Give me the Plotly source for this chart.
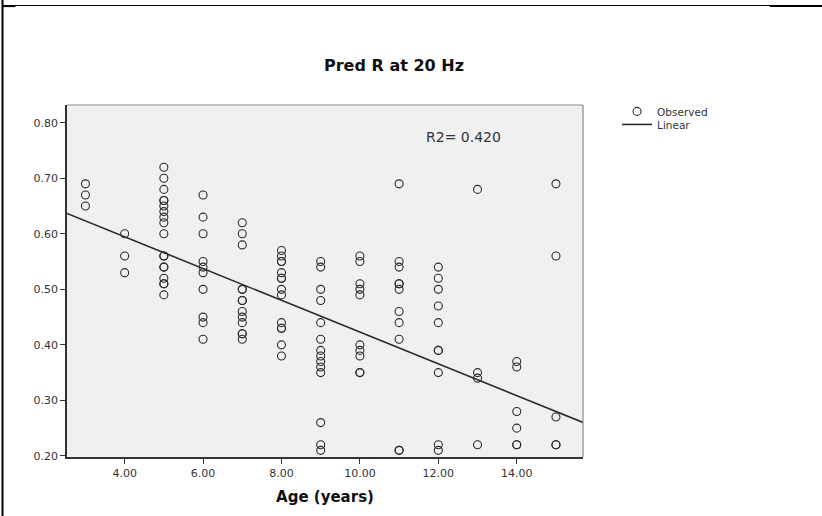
import numpy as np
import plotly.graph_objects as go

# Observed values per age group (years)
age_3 = [0.69, 0.67, 0.65]
age_4 = [0.60, 0.56, 0.53]
age_5 = [0.72, 0.70, 0.68, 0.66, 0.66, 0.65, 0.64, 0.63, 0.62, 0.60,
         0.56, 0.56, 0.54, 0.54, 0.52, 0.51, 0.51, 0.49]
age_6 = [0.67, 0.63, 0.60, 0.55, 0.54, 0.53, 0.50, 0.45, 0.44, 0.41]
age_7 = [0.62, 0.60, 0.58, 0.50, 0.50, 0.48, 0.48, 0.46, 0.45, 0.44,
         0.42, 0.42, 0.41]
age_8 = [0.57, 0.56, 0.55, 0.55, 0.53, 0.52, 0.52, 0.50, 0.49, 0.44,
         0.43, 0.43, 0.40, 0.38]
age_9 = [0.55, 0.54, 0.50, 0.48, 0.44, 0.41, 0.39, 0.38, 0.37, 0.36,
         0.35, 0.26, 0.22, 0.21]
age_10 = [0.56, 0.55, 0.51, 0.50, 0.49, 0.40, 0.39, 0.38, 0.35, 0.35]
age_11 = [0.69, 0.55, 0.54, 0.51, 0.51, 0.50, 0.46, 0.44, 0.41, 0.21, 0.21]
age_12 = [0.54, 0.52, 0.50, 0.47, 0.44, 0.39, 0.39, 0.35, 0.22, 0.21]
age_13 = [0.68, 0.35, 0.34, 0.22]
age_14 = [0.37, 0.36, 0.28, 0.25, 0.22, 0.22]
age_15 = [0.69, 0.56, 0.27, 0.22, 0.22]

groups = {3: age_3, 4: age_4, 5: age_5, 6: age_6, 7: age_7, 8: age_8,
          9: age_9, 10: age_10, 11: age_11, 12: age_12, 13: age_13,
          14: age_14, 15: age_15}

# Reported linear fit (Pred R = intercept + slope * age)
fit_intercept = 0.709
fit_slope = -0.0286
r2_label = "R2= 0.420"

x_ticks = [4, 6, 8, 10, 12, 14]
y_ticks = [0.20, 0.30, 0.40, 0.50, 0.60, 0.70, 0.80]
x_range = [2.53, 15.69]
y_range = [0.198, 0.832]

ages = np.concatenate([[a] * len(v) for a, v in groups.items()]).astype(float)
vals = np.concatenate([v for v in groups.values()])

fit_x = np.array(x_range)
fit_y = fit_intercept + fit_slope * fit_x

ink = "#2b2b2b"
font_family = "DejaVu Sans, Verdana, sans-serif"

fig = go.Figure()
fig.add_trace(go.Scatter(
    x=ages, y=vals, mode="markers", name="Observed", legend="legend",
    marker=dict(symbol="circle-open", size=8, color=ink,
                line=dict(width=1.1, color=ink)),
    cliponaxis=False,
))
fig.add_trace(go.Scatter(
    x=fit_x, y=fit_y, mode="lines", name="Linear", legend="legend2",
    line=dict(color=ink, width=1.6),
))

legend_style = dict(
    xanchor="left", yanchor="top", bgcolor="rgba(0,0,0,0)",
    font=dict(size=10.5, color="#333333"), itemwidth=30,
)

fig.update_layout(
    width=822, height=516,
    margin=dict(l=67, r=239, t=105, b=59),
    paper_bgcolor="white",
    plot_bgcolor="#f0f0f0",
    font=dict(family=font_family, size=11, color="#333333"),
    showlegend=True,
    legend=dict(x=1.066, y=1.023, **legend_style),
    legend2=dict(x=1.066, y=0.986, **legend_style),
    xaxis=dict(
        range=x_range, tickvals=x_ticks, tickformat=".2f",
        showgrid=False, zeroline=False,
        showline=True, linecolor="#333333", linewidth=1.5, mirror=False,
        ticks="outside", ticklen=5, tickcolor="#333333",
        tickfont=dict(size=11, color="#333333"),
        title=dict(text="<b>Age (years)</b>",
                   font=dict(size=15, color="#111111"), standoff=13),
    ),
    yaxis=dict(
        range=y_range, tickvals=y_ticks, tickformat=".2f",
        showgrid=False, zeroline=False,
        showline=True, linecolor="#333333", linewidth=1.5,
        ticks="outside", ticklen=5, tickcolor="#333333",
        tickfont=dict(size=11, color="#333333"),
    ),
    annotations=[
        dict(text="<b>Pred R at 20 Hz</b>", xref="paper", yref="paper",
             x=0.634, y=1.112, xanchor="center", yanchor="middle",
             showarrow=False, font=dict(size=16, color="#111111")),
        dict(text=r2_label, xref="paper", yref="paper",
             x=0.692, y=0.909, xanchor="left", yanchor="middle",
             showarrow=False, font=dict(size=14, color="#333333")),
        dict(text="(c)", xref="paper", yref="paper",
             x=0.646, y=1.2926, xanchor="center", yanchor="bottom",
             showarrow=False, font=dict(size=13, color="#111111")),
    ],
    shapes=[
        # top and right frame of the plotting area
        dict(type="line", xref="paper", yref="paper", x0=0, x1=1, y0=1, y1=1,
             line=dict(color="#8a8a8a", width=1.2)),
        dict(type="line", xref="paper", yref="paper", x0=1, x1=1, y0=0, y1=1,
             line=dict(color="#8a8a8a", width=1.2)),
        # page rules
        dict(type="line", xref="paper", yref="paper", x0=-0.125, x1=-0.125,
             y0=-0.17, y1=1.31, line=dict(color="black", width=2)),
        dict(type="line", xref="paper", yref="paper", x0=-0.125, x1=1.465,
             y0=1.2827, y1=1.2827, line=dict(color="black", width=1)),
        dict(type="line", xref="paper", yref="paper", x0=-0.125, x1=-0.1,
             y0=1.281, y1=1.281, line=dict(color="black", width=2)),
        dict(type="line", xref="paper", yref="paper", x0=1.362, x1=1.465,
             y0=1.281, y1=1.281, line=dict(color="black", width=2)),
    ],
)

fig.write_html("out.html")
